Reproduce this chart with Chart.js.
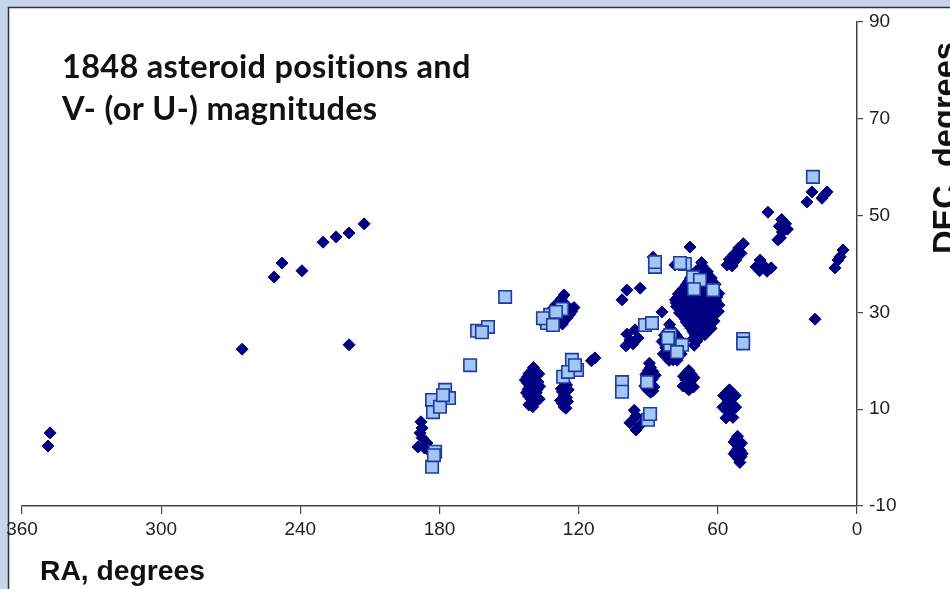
<!DOCTYPE html>
<html>
<head>
<meta charset="utf-8">
<script src="https://cdn.jsdelivr.net/npm/chart.js@4/dist/chart.umd.min.js"></script>
<style>
html,body{margin:0;padding:0;background:#c7d5ee;}
#wrap{width:950px;height:589px;}
</style>
</head>
<body>
<div id="wrap"><canvas id="c" width="950" height="589"></canvas></div>
<script>
// ---- DATA (RA degrees, DEC degrees) ----
const titleLines = ['1848 asteroid positions and', 'V- (or U-) magnitudes'];
const xTitle = 'RA, degrees';
const yTitle = 'DEC, degrees';
const raTicks = [360, 300, 240, 180, 120, 60, 0];
const decTicks = [-10, 10, 30, 50, 70, 90];

// V magnitudes (diamonds)
const vPositions = [
  [347.9,5.1],[348.8,2.4],[265.1,22.4],[251.3,37.3],[247.9,40.2],[239.3,38.6],[230.2,44.5],[224.6,45.6],[219.0,46.4],[212.5,48.3],[219.0,23.3],
  [188.0,7.4],[187.5,6.1],[188.4,5.1],[187.5,4.1],[189.3,2.2],[185.4,3.0],[184.1,1.2],[186.5,2.0],
  [139.5,18.6],[141.5,17.3],[137.2,17.3],[143.0,16.0],[138.5,16.0],[141.0,14.7],[136.8,14.7],[142.5,13.4],[138.3,13.4],[140.5,12.1],[137.0,12.1],[141.5,10.9],[139.8,15.3],[140.0,12.8],
  [140.2,17.9],[138.6,17.0],[142.2,16.6],[139.8,16.6],[137.5,15.6],[142.0,15.4],[138.0,14.0],[141.8,14.1],[139.4,13.8],[139.0,12.5],[141.6,12.7],[138.6,11.5],[140.6,11.3],[139.8,10.5],
  [127.5,32.8],[130.0,31.5],[125.3,31.5],[132.2,30.2],[127.6,30.2],[123.0,30.2],[134.0,28.9],[129.5,28.9],[125.0,28.9],[134.8,27.6],[131.0,27.6],[127.0,27.6],[126.3,33.6],[122.0,31.0],
  [128.7,31.9],[126.0,30.9],[131.0,30.8],[128.5,29.5],[123.8,29.6],[133.2,29.3],[126.3,28.3],[130.2,28.2],[132.9,28.1],
  [126.0,15.5],[127.5,14.2],[124.5,14.0],[126.2,12.9],[127.8,11.8],[124.8,11.6],[126.3,10.5],[125.5,16.8],
  [125.2,15.0],[127.0,13.6],[125.3,12.4],[127.0,11.2],[125.5,10.2],[126.8,16.2],
  [113.0,20.6],[114.5,20.0],
  [99.2,25.5],[95.7,26.4],[97.9,24.3],[94.4,24.7],[99.6,23.1],[96.6,23.5],
  [99.2,34.6],[93.5,35.0],[101.3,32.6],[84.1,30.1],[87.9,41.4],[72.0,43.5],[78.5,39.8],
  [89.0,18.6],[91.0,17.2],[87.0,17.0],[89.5,15.8],[91.5,14.8],[87.5,14.6],[89.0,13.5],[89.5,19.5],
  [90.0,18.0],[88.0,17.8],[90.3,16.4],[88.3,16.2],[90.5,15.2],[88.3,15.0],[90.3,14.0],[88.0,13.8],
  [80.5,26.6],[83.0,25.3],[78.0,25.3],[84.0,24.0],[79.5,24.0],[75.8,24.0],[82.5,22.7],[77.5,22.7],[83.5,21.4],[79.0,21.4],[75.8,21.4],[81.0,20.1],[77.6,20.1],[80.8,27.5],
  [81.8,26.0],[79.2,26.0],[81.3,24.6],[77.0,24.6],[82.0,23.4],[80.0,22.9],[75.5,22.8],[80.8,21.8],[78.0,21.0],[79.3,20.2],
  [66.8,39.6],[69.5,38.4],[64.5,38.4],[71.8,37.1],[66.9,37.1],[62.8,37.1],[73.5,35.8],[68.7,35.8],[64.1,35.8],[61.2,35.8],
  [75.6,34.5],[71.0,34.5],[66.2,34.5],[61.5,34.5],[76.5,33.2],[73.4,33.2],[68.6,33.2],[63.8,33.2],[60.5,33.2],
  [76.8,31.9],[71.9,31.9],[66.8,31.9],[61.9,31.9],[76.2,30.6],[74.0,30.6],[69.3,30.6],[64.4,30.6],[60.9,30.6],
  [75.0,29.3],[71.5,29.3],[66.6,29.3],[62.1,29.3],[73.6,28.0],[69.0,28.0],[64.2,28.0],[71.5,26.7],[66.4,26.7],[62.9,26.7],
  [69.8,25.4],[65.6,25.4],[69.0,24.1],[78.0,32.0],[59.5,31.5],[70.2,23.2],[67.0,40.3],
  [68.2,39.0],[65.7,37.8],[70.6,37.8],[63.5,36.5],[68.0,36.5],[72.6,36.4],[74.5,35.1],[69.8,35.1],[65.1,35.1],[62.3,35.2],
  [77.0,33.8],[72.2,33.8],[67.4,33.8],[62.6,33.8],[59.6,33.9],[78.3,32.6],[74.6,32.5],[70.2,32.5],[65.3,32.5],[60.9,32.5],
  [77.8,31.2],[73.4,31.2],[68.3,31.2],[63.3,31.2],[59.8,30.2],[76.5,29.9],[72.6,29.9],[67.8,29.9],[63.2,29.9],
  [74.0,28.6],[70.2,28.6],[65.3,28.6],[61.6,28.2],[72.4,27.3],[67.7,27.3],[63.4,27.4],[70.6,26.0],[66.3,26.0],
  [68.3,24.7],[70.7,24.5],[64.3,26.2],[72.5,27.9],
  [95.3,8.6],[97.9,7.2],[93.5,6.7],[95.3,5.7],[91.4,8.2],[96.0,9.8],
  [72.5,18.0],[74.8,16.8],[70.3,16.5],[72.5,15.5],[75.0,14.8],[70.5,14.6],[72.5,14.0],
  [73.6,17.4],[71.4,17.2],[73.8,16.1],[71.4,15.9],[73.8,14.6],[71.6,14.5],
  [55.0,14.0],[57.5,12.8],[52.5,12.8],[55.0,11.6],[57.8,10.4],[52.3,10.4],[55.0,9.3],[56.5,8.2],[53.5,8.3],
  [56.2,13.4],[53.8,13.4],[56.3,11.0],[53.7,11.0],[54.0,9.9],[56.2,9.8],[54.2,12.2],[56.0,12.2],
  [51.5,4.4],[53.0,3.2],[49.8,3.0],[51.3,1.9],[53.0,0.8],[49.5,0.8],[51.0,-0.3],[50.5,-1.0],
  [52.2,3.8],[50.7,2.5],[52.2,1.3],[50.3,1.4],[51.8,0.2],[50.0,0.2],
  [49.0,44.2],[51.0,43.3],[53.0,42.0],[50.0,42.2],[55.0,41.0],[52.3,40.8],[56.0,39.8],[53.8,39.6],
  [41.8,40.8],[43.5,39.4],[40.0,39.6],[37.0,39.2],[42.0,38.6],[38.8,38.5],
  [32.5,49.2],[30.8,48.3],[33.5,47.8],[30.0,47.2],[32.2,46.6],[33.0,45.4],[34.1,45.0],[38.4,50.7],
  [19.4,54.9],[21.6,52.8],[12.9,54.9],[15.1,53.6],[14.0,54.3],
  [6.0,42.9],[7.3,41.5],[8.2,40.8],[9.5,39.2],[18.1,28.6]
];

// U magnitudes (squares)
const uPositions = [
  [181.9,1.2],[183.2,-1.9],[182.4,0.5],
  [183.2,11.9],[182.8,9.4],[177.6,14.0],[175.9,12.3],[179.8,10.5],[178.5,12.9],
  [166.8,19.1],
  [163.8,26.2],[159.1,27.0],[161.7,25.9],
  [151.7,33.2],
  [132.3,29.5],[127.2,30.7],[133.6,27.8],[135.4,28.8],[131.1,27.4],[129.8,30.1],
  [122.9,20.2],[120.7,18.1],[126.7,16.7],[124.6,17.7],[121.6,19.1],
  [101.3,15.6],[101.3,13.6],
  [91.4,27.4],[88.4,27.8],
  [80.6,25.3],[80.6,23.3],[75.4,23.3],[77.6,21.8],[81.5,24.7],
  [90.5,15.6],
  [90.1,7.8],[89.2,9.0],
  [70.7,37.3],[67.7,36.7],[70.3,34.8],[62.1,34.6],
  [74.2,40.0],[76.3,40.2],
  [87.1,39.4],[87.1,40.4],
  [49.1,24.5],[49.1,23.6],
  [19.0,58.0]
];

// ---- CHART ----
const toXY = arr => arr.map(p => ({x: p[0], y: p[1]}));
const tickFont = {family: "'Liberation Sans Narrow','Liberation Sans',Arial,sans-serif", size: 19};

function fitFont(ctx, text, weight, family, targetW, maxSize) {
  let s = maxSize;
  ctx.font = weight + ' ' + s + 'px ' + family;
  const w = ctx.measureText(text).width;
  s = s * targetW / w;
  return weight + ' ' + s.toFixed(2) + 'px ' + family;
}

const framePlugin = {
  id: 'frame',
  beforeDraw(chart) {
    const ctx = chart.ctx;
    ctx.save();
    ctx.fillStyle = '#c7d5ee';
    ctx.fillRect(0, 0, 950, 589);
    ctx.fillStyle = '#ffffff';
    ctx.fillRect(8, 7, 942, 582);
    ctx.strokeStyle = '#333333';
    ctx.lineWidth = 1.5;
    ctx.beginPath();
    ctx.moveTo(8.5, 589); ctx.lineTo(8.5, 7.5); ctx.lineTo(950, 7.5);
    ctx.stroke();
    ctx.restore();
  },
  afterDraw(chart) {
    const ctx = chart.ctx;
    ctx.save();
    try { ctx.textRendering = 'optimizeSpeed'; } catch (e) {}
    try { ctx.letterSpacing = '0.3px'; } catch (e) {}
    ctx.fillStyle = '#111111';
    ctx.textBaseline = 'middle';
    ctx.textAlign = 'left';
    const tFamily = "Lato, 'Open Sans', sans-serif";
    ctx.font = fitFont(ctx, titleLines[0], 'bold', tFamily, 410, 28);
    ctx.fillText(titleLines[0], 62, 68);
    ctx.fillText(titleLines[1], 62, 110);
    try { ctx.letterSpacing = '0px'; } catch (e) {}

    const aFamily = "'Liberation Sans Narrow','Liberation Sans',Arial,sans-serif";
    ctx.font = fitFont(ctx, xTitle, 'bold', aFamily, 165, 26);
    ctx.fillText(xTitle, 40, 572);

    ctx.font = fitFont(ctx, yTitle, 'bold', aFamily, 212, 26);
    ctx.translate(956, 148);
    ctx.rotate(-Math.PI / 2);
    ctx.textAlign = 'center';
    ctx.textBaseline = 'alphabetic';
    ctx.fillText(yTitle, 0, 0);
    ctx.restore();
  }
};

new Chart(document.getElementById('c'), {
  type: 'scatter',
  data: {
    datasets: [
      {
        label: 'U magnitudes',
        data: toXY(uPositions),
        order: 0,
        pointStyle: 'rect',
        pointRadius: 8.8,
        backgroundColor: '#a4c6f4',
        borderColor: '#1c3aa0',
        borderWidth: 1.6
      },
      {
        label: 'V magnitudes',
        data: toXY(vPositions),
        order: 1,
        pointStyle: 'rectRot',
        pointRadius: 6,
        backgroundColor: '#000080',
        borderColor: '#000080',
        borderWidth: 1
      }
    ]
  },
  options: {
    responsive: false,
    animation: false,
    events: [],
    layout: {padding: {left: 22, top: 22, right: 0, bottom: 0}},
    plugins: {legend: {display: false}, tooltip: {enabled: false}, title: {display: false}},
    scales: {
      x: {
        type: 'linear',
        position: 'bottom',
        reverse: true,
        min: 0, max: 360,
        afterBuildTicks: s => { s.ticks = raTicks.map(v => ({value: v})); },
        afterFit: s => { s.height = 83; },
        grid: {drawOnChartArea: false, drawTicks: true, tickLength: 8, color: '#444', lineWidth: 1.2},
        border: {display: true, color: '#444', width: 1.5},
        ticks: {color: '#222', font: tickFont, padding: 4, maxRotation: 0}
      },
      y: {
        type: 'linear',
        position: 'right',
        min: -10, max: 90,
        afterBuildTicks: s => { s.ticks = decTicks.map(v => ({value: v})); },
        afterFit: s => { s.width = 93; },
        grid: {drawOnChartArea: false, drawTicks: true, tickLength: 6, color: '#444', lineWidth: 1.2},
        border: {display: true, color: '#444', width: 1.5},
        ticks: {color: '#222', font: tickFont, padding: 6}
      }
    }
  },
  plugins: [framePlugin]
});
</script>
</body>
</html>
